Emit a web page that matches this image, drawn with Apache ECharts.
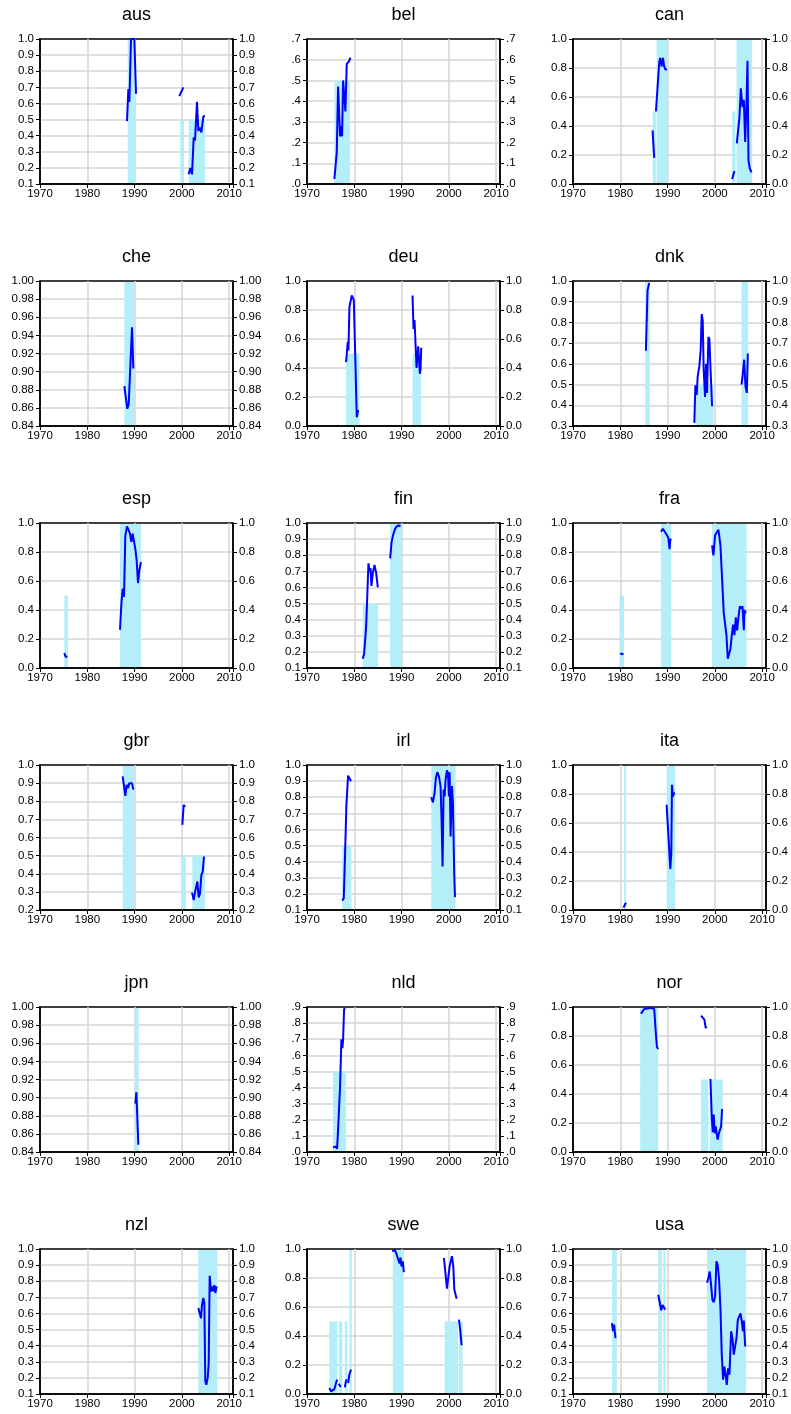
<!DOCTYPE html>
<html><head><meta charset="utf-8">
<script src="https://cdn.jsdelivr.net/npm/echarts@6/dist/echarts.min.js"></script>
<style>html,body{margin:0;padding:0;background:#fff}#c{width:791px;height:1414px}</style>
</head><body><div id="c"></div>
<script>
// ---------- panel definitions ----------
const countries = ['aus','bel','can','che','deu','dnk','esp','fin','fra','gbr','irl','ita','jpn','nld','nor','nzl','swe','usa'];
const yMin  = [0.1, 0,   0,   0.84, 0,   0.3, 0,   0.1, 0,   0.2, 0.1, 0,   0.84, 0,   0,   0.1, 0,   0.1];
const yMax  = [1,   0.7, 1,   1,    1,   1,   1,   1,   1,   1,   1,   1,   1,    0.9, 1,   1,   1,   1];
const yStep = [0.1, 0.1, 0.2, 0.02, 0.2, 0.1, 0.2, 0.1, 0.2, 0.1, 0.1, 0.2, 0.02, 0.1, 0.2, 0.1, 0.2, 0.1];
const yDecimals = [1,1,1,2,1,1,1,1,1,1,1,1,2,1,1,1,1,1];
const yNoLeadZero = [false,true,false,false,false,false,false,false,false,false,false,false,false,true,false,false,false,false];
const xTickYears = [1970, 1980, 1990, 2000, 2010];
const xMin = 1970, xMax = 2010.8;

// shaded regimes: [start, end, level]
const ausShade = [[1988.53,1990.3,1],[1999.67,2000.44,0.5],[2001.43,2004.88,0.5]];
const belShade = [[1975.79,1979.1,0.5]];
const canShade = [[1986.82,1987.53,0.5],[1987.67,1990.0,1],[2003.64,2004.35,0.5],[2004.56,2007.88,1]];
const cheShade = [[1987.83,1989.94,1]];
const deuShade = [[1978.26,1981.09,0.5],[1992.3,1994.15,0.5]];
const dnkShade = [[1985.27,1986.25,1],[1995.87,1999.68,0.5],[2005.62,2007.03,1]];
const espShade = [[1975.14,1975.92,0.5],[1986.91,1991.35,1]];
const finShade = [[1981.79,1985.04,0.5],[1987.58,1989.91,1]];
const fraShade = [[1979.82,1980.81,0.5],[1988.59,1990.78,1],[1999.4,2006.68,1]];
const gbrShade = [[1987.48,1989.94,1],[1999.95,2000.87,0.5],[2002.21,2004.88,0.5]];
const irlShade = [[1977.42,1979.39,0.5],[1996.27,2001.42,1]];
const itaShade = [[1980.81,1981.24,1],[1989.79,1991.62,1]];
const jpnShade = [[1990.01,1990.86,1]];
const nldShade = [[1975.51,1978.26,0.5]];
const norShade = [[1984.2,1988.02,1],[1997.07,1998.62,0.5],[1998.98,2001.66,0.5]];
const nzlShade = [[2003.47,2007.49,1]];
const sweShade = [[1974.73,1976.43,0.5],[1976.71,1977.49,0.5],[1977.98,1978.55,0.5],[1978.97,1979.46,1],[1988.15,1990.47,1],[1999.09,2001.91,0.5],[2002.12,2002.9,0.5]];
const usaShade = [[1978.27,1979.26,1],[1988.02,1988.8,1],[1989.08,1989.51,1],[1998.34,2006.61,1]];

// probability lines: list of segments of [year, value]
const ausLine = [
  [[1988.39,0.49],[1988.68,0.69],[1988.89,0.61],[1989.03,0.62],[1989.24,1.0],[1989.94,1.0],[1990.3,0.66]],
  [[1999.45,0.645],[2000.3,0.70]],
  [[2001.43,0.16],[2001.78,0.2],[2002.14,0.16],[2002.49,0.39],[2002.77,0.37],[2003.19,0.61],[2003.47,0.43],[2003.83,0.45],[2004.11,0.42],[2004.53,0.52],[2004.88,0.52]]
];
const belLine = [
  [[1975.79,0.024],[1976.29,0.153],[1976.57,0.47],[1976.99,0.23],[1977.27,0.28],[1977.42,0.23],[1977.63,0.5],[1977.91,0.5],[1978.12,0.35],[1978.4,0.58],[1978.83,0.59],[1979.18,0.61]]
];
const canLine = [
  [[1986.82,0.37],[1987.17,0.18]],
  [[1987.53,0.50],[1988.23,0.84],[1988.45,0.87],[1988.73,0.81],[1989.01,0.87],[1989.29,0.81],[1989.51,0.79],[1989.86,0.79]],
  [[2003.64,0.035],[2004.13,0.09]],
  [[2004.63,0.28],[2005.19,0.46],[2005.48,0.66],[2005.83,0.53],[2006.11,0.58],[2006.4,0.29],[2006.61,0.48],[2006.89,0.85],[2007.1,0.16],[2007.39,0.105],[2007.74,0.08]]
];
const cheLine = [
  [[1987.83,0.884],[1988.18,0.87],[1988.46,0.859],[1988.75,0.864],[1989.03,0.864],[1989.45,0.949],[1989.73,0.9035]]
];
const deuLine = [
  [[1978.26,0.44],[1978.62,0.58],[1978.76,0.52],[1978.97,0.82],[1979.18,0.83],[1979.46,0.90],[1979.68,0.91],[1979.89,0.87],[1980.17,0.52],[1980.52,0.06],[1980.81,0.11]],
  [[1992.31,0.90],[1992.52,0.67],[1992.73,0.73],[1992.95,0.72],[1993.16,0.40],[1993.37,0.40],[1993.51,0.55],[1993.72,0.545],[1993.86,0.36],[1994.0,0.39],[1994.15,0.54]]
];
const dnkLine = [
  [[1985.41,0.663],[1985.76,0.956],[1986.11,0.99]],
  [[1995.65,0.315],[1995.87,0.497],[1996.15,0.45],[1996.36,0.54],[1996.71,0.59],[1997.0,0.67],[1997.21,0.84],[1997.42,0.81],[1997.63,0.57],[1997.92,0.44],[1998.13,0.60],[1998.34,0.46],[1998.62,0.73],[1998.83,0.72],[1999.12,0.55],[1999.4,0.395]],
  [[2005.62,0.50],[2005.9,0.553],[2006.18,0.62],[2006.47,0.49],[2006.75,0.46],[2006.96,0.65]]
];
const espLine = [
  [[1975.14,0.103],[1975.43,0.076],[1975.78,0.08]],
  [[1986.91,0.264],[1987.2,0.44],[1987.48,0.547],[1987.76,0.49],[1988.04,0.915],[1988.39,0.977],[1988.75,0.984],[1989.03,0.926],[1989.31,0.87],[1989.59,0.926],[1989.87,0.915],[1990.16,0.82],[1990.44,0.74],[1990.72,0.586],[1991.0,0.674],[1991.35,0.73]]
];
const finLine = [
  [[1981.79,0.157],[1982.08,0.19],[1982.5,0.355],[1982.78,0.58],[1982.99,0.75],[1983.21,0.70],[1983.42,0.72],[1983.63,0.61],[1983.91,0.69],[1984.27,0.74],[1984.62,0.69],[1984.97,0.60]],
  [[1987.58,0.78],[1987.87,0.88],[1988.15,0.92],[1988.57,0.96],[1988.86,0.975],[1989.34,0.985],[1989.77,0.98]]
];
const fraLine = [
  [[1979.96,0.10],[1980.25,0.11],[1980.67,0.095]],
  [[1988.59,0.94],[1989.01,0.96],[1989.43,0.96],[1989.86,0.915],[1990.14,0.90],[1990.42,0.82],[1990.57,0.89],[1990.71,0.88]],
  [[1999.4,0.846],[1999.68,0.777],[2000.04,0.915],[2000.46,0.926],[2000.74,0.954],[2001.17,0.846],[2001.45,0.834],[2001.87,0.38],[2002.16,0.377],[2002.44,0.227],[2002.72,0.064],[2003.0,0.076],[2003.29,0.133],[2003.57,0.227],[2003.85,0.30],[2004.13,0.227],[2004.42,0.35],[2004.7,0.26],[2004.98,0.35],[2005.27,0.425],[2005.55,0.41],[2005.83,0.425],[2006.11,0.26],[2006.25,0.40],[2006.54,0.377]]
];
const gbrLine = [
  [[1987.48,0.937],[1987.83,0.928],[1988.04,0.83],[1988.32,0.89],[1988.6,0.873],[1988.89,0.90],[1989.17,0.89],[1989.45,0.90],[1989.73,0.864]],
  [[2000.09,0.67],[2000.37,0.78],[2000.66,0.768]],
  [[2002.14,0.296],[2002.49,0.255],[2002.84,0.307],[2003.26,0.357],[2003.54,0.27],[2003.83,0.29],[2004.11,0.393],[2004.39,0.41],[2004.67,0.495]]
];
const irlLine = [
  [[1977.42,0.158],[1977.77,0.172],[1978.05,0.45],[1978.33,0.753],[1978.69,0.934],[1978.97,0.93],[1979.32,0.90]],
  [[1996.26,0.80],[1996.62,0.768],[1996.97,0.826],[1997.25,0.92],[1997.54,0.955],[1997.89,0.93],[1998.24,0.867],[1998.45,0.66],[1998.66,0.37],[1998.88,0.848],[1999.09,0.805],[1999.3,0.91],[1999.58,0.967],[1999.79,0.95],[2000.01,0.805],[2000.15,0.955],[2000.36,0.556],[2000.64,0.87],[2000.85,0.763],[2001.14,0.307],[2001.28,0.18]]
];
const itaLine = [
  [[1980.67,0.016],[1981.02,0.04],[1981.2,0.05]],
  [[1989.79,0.726],[1990.14,0.53],[1990.57,0.283],[1990.78,0.39],[1990.92,0.864],[1991.13,0.783],[1991.34,0.806],[1991.55,0.806]]
];
const jpnLine = [
  [[1990.16,0.8934],[1990.37,0.906],[1990.58,0.907],[1990.79,0.848]]
];
const nldLine = [
  [[1975.51,0.028],[1975.86,0.024],[1976.14,0.035],[1976.36,0.02],[1976.57,0.138],[1976.78,0.138],[1976.99,0.407],[1977.27,0.70],[1977.49,0.645],[1977.63,0.697],[1977.84,0.888],[1978.12,0.89]]
];
const norLine = [
  [[1984.35,0.954],[1984.7,0.97],[1985.05,0.986],[1985.41,0.977],[1985.76,0.99],[1986.11,0.98],[1986.47,0.994],[1986.89,1.0],[1987.17,0.986],[1987.46,0.844],[1987.74,0.724],[1988.02,0.71]],
  [[1997.07,0.94],[1997.49,0.947],[1997.77,0.913],[1998.06,0.855],[1998.27,0.866]],
  [[1999.05,0.503],[1999.33,0.246],[1999.54,0.136],[1999.75,0.258],[1999.96,0.13],[2000.18,0.177],[2000.39,0.12],[2000.6,0.085],[2000.81,0.126],[2001.1,0.12],[2001.31,0.177],[2001.52,0.297]]
];
const nzlLine = [
  [[2003.47,0.634],[2003.76,0.644],[2004.04,0.57],[2004.25,0.655],[2004.53,0.696],[2004.74,0.665],[2004.95,0.178],[2005.17,0.157],[2005.45,0.2],[2005.66,0.29],[2005.87,0.834],[2006.15,0.737],[2006.43,0.768],[2006.65,0.737],[2006.86,0.775],[2007.07,0.727],[2007.35,0.768]]
];
const sweLine = [
  [[1974.73,0.041],[1975.08,0.018],[1975.44,0.007],[1975.79,0.034],[1976.14,0.076],[1976.36,0.099]],
  [[1976.71,0.071],[1977.13,0.048]],
  [[1977.98,0.046],[1978.26,0.092],[1978.47,0.099]],
  [[1978.69,0.076],[1978.97,0.138],[1979.32,0.168]],
  [[1988.01,0.984],[1988.5,0.995],[1988.85,0.972],[1989.2,0.96],[1989.56,0.90],[1989.77,0.94],[1989.98,0.88],[1990.26,0.915],[1990.47,0.84]],
  [[1998.95,0.938],[1999.3,0.823],[1999.58,0.726],[1999.79,0.73],[2000.15,0.88],[2000.43,0.89],[2000.64,0.95],[2000.93,0.88],[2001.14,0.72],[2001.35,0.715],[2001.63,0.657]],
  [[2002.12,0.513],[2002.41,0.437],[2002.69,0.336]]
];
const usaLine = [
  [[1978.2,0.54],[1978.48,0.49],[1978.69,0.53],[1978.98,0.447]],
  [[1988.02,0.716],[1988.37,0.706],[1988.66,0.62],[1988.94,0.653],[1989.22,0.653],[1989.51,0.623]],
  [[1998.34,0.79],[1998.62,0.82],[1998.9,0.86],[1999.19,0.778],[1999.47,0.685],[1999.75,0.67],[2000.04,0.706],[2000.32,0.923],[2000.6,0.90],[2000.88,0.81],[2001.17,0.633],[2001.45,0.344],[2001.73,0.189],[2002.01,0.27],[2002.3,0.209],[2002.51,0.157],[2002.79,0.26],[2003.07,0.22],[2003.43,0.49],[2003.71,0.447],[2003.99,0.344],[2004.28,0.354],[2004.56,0.447],[2004.84,0.56],[2005.12,0.55],[2005.41,0.60],[2005.69,0.55],[2005.9,0.49],[2006.11,0.556],[2006.4,0.395]]
];

const shadeSets = [ausShade,belShade,canShade,cheShade,deuShade,dnkShade,espShade,finShade,fraShade,gbrShade,irlShade,itaShade,jpnShade,nldShade,norShade,nzlShade,sweShade,usaShade];
const lineSets  = [ausLine,belLine,canLine,cheLine,deuLine,dnkLine,espLine,finLine,fraLine,gbrLine,irlLine,itaLine,jpnLine,nldLine,norLine,nzlLine,sweLine,usaLine];

// ---------- layout & style ----------
const FONT = 'Liberation Sans, Arial, Helvetica, sans-serif';
const colLeft = [40, 307, 573];
const rowTop = [39, 281, 523, 765, 1007, 1249];
const W = 193, H = 145;
const SHADE = '#b4eef9';
const LINE = '#0000ff';
const GRIDC = '#d4d4d4';

const chart = echarts.init(document.getElementById('c'), null, {renderer: 'canvas'});
const option = {animation: false, backgroundColor: '#fff', title: [], grid: [], xAxis: [], yAxis: [], series: []};

countries.forEach((name, i) => {
  const r = Math.floor(i / 3), c = i % 3;
  const left = colLeft[c], top = rowTop[r];
  option.title.push({
    text: name, left: left + W / 2, top: top - 33, textAlign: 'center', padding: 0,
    textStyle: {fontFamily: FONT, fontSize: 18, fontWeight: 'normal', color: '#000'}
  });
  option.grid.push({left: left, top: top, width: W, height: H, show: true, borderColor: '#000', borderWidth: 1.5, backgroundColor: 'transparent'});
  option.xAxis.push({
    gridIndex: i, type: 'value', min: xMin, max: xMax, interval: 10,
    axisLine: {show: true, onZero: false, lineStyle: {color: '#000', width: 1.5}},
    axisTick: {show: true, length: 4, lineStyle: {color: '#000'}},
    axisLabel: {color: '#000', fontFamily: FONT, fontSize: 11.5, margin: 4,
      formatter: v => (xTickYears.indexOf(Math.round(v)) >= 0 && Math.abs(v - Math.round(v)) < 1e-6) ? String(Math.round(v)) : ''},
    splitLine: {show: true, showMinLine: false, showMaxLine: false, lineStyle: {color: GRIDC, width: 1.5}}
  });
  const fmt = v => {
    let s = v.toFixed(yDecimals[i]);
    if (yNoLeadZero[i]) s = s.replace(/^0\./, '.');
    return s;
  };
  const yBase = {
    gridIndex: i, type: 'value', min: yMin[i], max: yMax[i], interval: yStep[i],
    axisLine: {show: true, onZero: false, lineStyle: {color: '#000', width: 1.5}},
    axisTick: {show: true, length: 4, lineStyle: {color: '#000'}},
    axisLabel: {color: '#000', fontFamily: FONT, fontSize: 11.5, margin: 6, formatter: fmt}
  };
  option.yAxis.push(Object.assign({}, yBase, {position: 'left',
    splitLine: {show: true, showMinLine: false, showMaxLine: false, lineStyle: {color: GRIDC, width: 1.5}}}));
  option.yAxis.push(Object.assign({}, yBase, {position: 'right', splitLine: {show: false}}));

  const ymin = yMin[i], ymax = yMax[i];
  option.series.push({
    type: 'custom', xAxisIndex: i, yAxisIndex: 2 * i, z: 1, silent: true,
    data: shadeSets[i], encode: {x: [0, 1], y: 2},
    renderItem: (params, api) => {
      const cs = params.coordSys;
      const a = api.coord([api.value(0), Math.min(api.value(2), ymax)]);
      const b = api.coord([api.value(1), ymin]);
      const x0 = Math.max(a[0], cs.x + 1), x1 = Math.min(b[0], cs.x + cs.width - 1);
      const y0 = Math.max(a[1], cs.y + 1), y1 = Math.min(b[1], cs.y + cs.height - 1);
      return {type: 'rect', shape: {x: x0, y: y0, width: Math.max(0, x1 - x0), height: Math.max(0, y1 - y0)}, style: {fill: SHADE}};
    }
  });
  lineSets[i].forEach(seg => {
    option.series.push({
      type: 'line', xAxisIndex: i, yAxisIndex: 2 * i, z: 3, silent: true, clip: false,
      data: seg, showSymbol: false, symbol: 'none',
      lineStyle: {color: LINE, width: 2}
    });
  });
});

chart.setOption(option);
</script></body></html>
